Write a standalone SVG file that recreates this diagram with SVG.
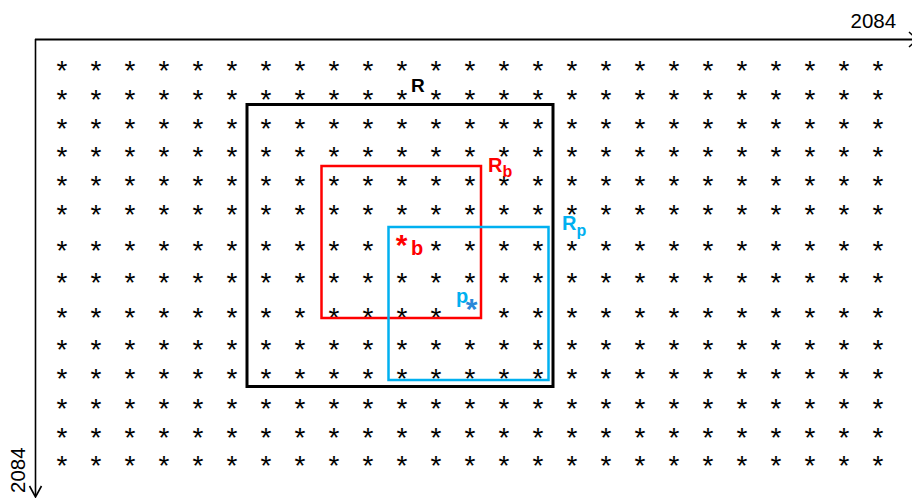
<svg xmlns="http://www.w3.org/2000/svg" width="912" height="498" viewBox="0 0 912 498">
<style>
.g{font-family:"Liberation Sans",Arial,sans-serif;font-size:28px;fill:#000;text-anchor:middle}
.pt{font-family:"Liberation Sans",Arial,sans-serif;font-size:30px;font-weight:bold;text-anchor:middle}
.lbl{font-family:"Liberation Sans",Arial,sans-serif;font-weight:bold}
.ax{font-family:"Liberation Sans",Arial,sans-serif;font-size:20.5px;fill:#000}
</style>
<rect width="912" height="498" fill="#fff"/>
<g id="axes" fill="none" stroke="#000">
<line x1="35" y1="39.5" x2="914" y2="39.5" stroke-width="2"/>
<polyline points="909,32 917,39.5 909,47" stroke-width="1.5"/>
<line x1="35.5" y1="39" x2="35.5" y2="496" stroke-width="1.6"/>
<polyline points="29.5,486 35.5,497 41.5,486" stroke-width="1.6"/>
</g>
<text class="ax" x="850.5" y="28">2084</text>
<text class="ax" transform="translate(25,493) rotate(-90)">2084</text>
<g id="grid">
<text class="g" x="62 96 130 164 198 232 266 300 334 368 402 436 470 504 538 572 606 640 674 708 742 776 810 844 878" y="80">*************************</text>
<text class="g" x="62 96 130 164 198 232 266 300 334 368 402 436 470 504 538 572 606 640 674 708 742 776 810 844 878" y="109">*************************</text>
<text class="g" x="62 96 130 164 198 232 266 300 334 368 402 436 470 504 538 572 606 640 674 708 742 776 810 844 878" y="137.5">*************************</text>
<text class="g" x="62 96 130 164 198 232 266 300 334 368 402 436 470 504 538 572 606 640 674 708 742 776 810 844 878" y="166">*************************</text>
<text class="g" x="62 96 130 164 198 232 266 300 334 368 402 436 470 504 538 572 606 640 674 708 742 776 810 844 878" y="195">*************************</text>
<text class="g" x="62 96 130 164 198 232 266 300 334 368 402 436 470 504 538 572 606 640 674 708 742 776 810 844 878" y="224">*************************</text>
<text class="g" x="62 96 130 164 198 232 266 300 334 368 436 470 504 538 572 606 640 674 708 742 776 810 844 878" y="259.5">************************</text>
<text class="g" x="62 96 130 164 198 232 266 300 334 368 402 436 470 504 538 572 606 640 674 708 742 776 810 844 878" y="292">*************************</text>
<text class="g" x="62 96 130 164 198 232 266 300 334 368 402 436 504 538 572 606 640 674 708 742 776 810 844 878" y="327">************************</text>
<text class="g" x="62 96 130 164 198 232 266 300 334 368 402 436 470 504 538 572 606 640 674 708 742 776 810 844 878" y="359">*************************</text>
<text class="g" x="62 96 130 164 198 232 266 300 334 368 402 436 470 504 538 572 606 640 674 708 742 776 810 844 878" y="388">*************************</text>
<text class="g" x="62 96 130 164 198 232 266 300 334 368 402 436 470 504 538 572 606 640 674 708 742 776 810 844 878" y="418">*************************</text>
<text class="g" x="62 96 130 164 198 232 266 300 334 368 402 436 470 504 538 572 606 640 674 708 742 776 810 844 878" y="447">*************************</text>
<text class="g" x="62 96 130 164 198 232 266 300 334 368 402 436 470 504 538 572 606 640 674 708 742 776 810 844 878" y="475">*************************</text>
</g>
<g id="R">
<rect x="247" y="104.5" width="306" height="282" fill="none" stroke="#000" stroke-width="3"/>
<text class="lbl" x="411" y="92" font-size="19" fill="#000">R</text>
</g>
<g id="Rb">
<rect x="321.5" y="166" width="159.5" height="152" fill="none" stroke="#ff0000" stroke-width="2.5"/>
<text class="lbl" x="488" y="172" font-size="20" fill="#ff0000">R<tspan font-size="16" dy="5">b</tspan></text>
</g>
<g id="Rp">
<rect x="388.5" y="227" width="160" height="153" fill="none" stroke="#00b0f0" stroke-width="2.5"/>
<text class="lbl" x="562" y="230" font-size="20" fill="#00b0f0">R<tspan font-size="16" dy="6">p</tspan></text>
</g>
<g id="point-b">
<text class="pt" x="401.5" y="255" style="fill:#ff0000">*</text>
<text class="lbl" x="411" y="255" font-size="20" fill="#ff0000">b</text>
</g>
<g id="point-p">
<text class="lbl" x="456" y="303" font-size="20" fill="#00b0f0">p</text>
<text class="pt" x="471.5" y="319" style="fill:#2b88d8">*</text>
</g>
</svg>
